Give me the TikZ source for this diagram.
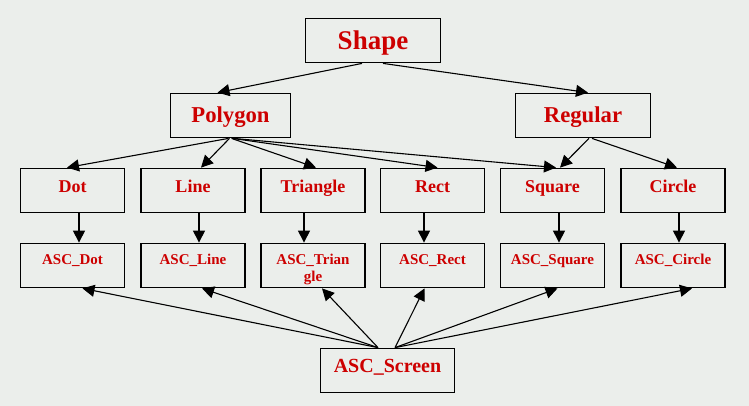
\documentclass[tikz,border=0pt]{standalone}
\usepackage{fontspec}
\setmainfont{Liberation Serif}
\usetikzlibrary{arrows.meta}
\definecolor{bgcol}{RGB}{235,238,235}
\definecolor{lbl}{RGB}{205,0,0}

\begin{document}
\begin{tikzpicture}[x=1pt,y=-1pt,
    box/.style={draw,line width=1.8pt,fill=bgcol,text=lbl,inner sep=0pt,minimum height=44pt},
    top/.style={box,minimum width=135pt,font=\bfseries\fontsize{27}{30}\selectfont,text height=17.8pt,text depth=0pt},
    mid/.style={box,font=\bfseries\fontsize{22.7}{26}\selectfont,text height=15pt,text depth=0pt},
    cls/.style={box,minimum width=104pt,font=\bfseries\fontsize{18}{20}\selectfont,text height=12pt,text depth=8.4pt},
    asc/.style={box,minimum width=104pt,font=\bfseries\fontsize{15}{17}\selectfont,text height=10pt,text depth=13pt},
    edge/.style={-{Triangle[length=12pt,width=12pt]},line width=1.1pt}]
    \fill[bgcol] (0,0) rectangle (749,406);
    \useasboundingbox (0,0) rectangle (749,406);
    \node[top] (shape) at (373,40.5) {Shape};
    \node[mid,minimum width=120pt] (polygon) at (230.5,115.5) {Polygon};
    \node[mid,minimum width=135pt] (regular) at (583,115.5) {Regular};
    \node[cls] (dot) at (72.5,190.5) {Dot};
    \node[cls] (line) at (193,190.5) {Line};
    \node[cls] (triangle) at (313,190.5) {Triangle};
    \node[cls] (rect) at (432.5,190.5) {Rect};
    \node[cls] (square) at (552.5,190.5) {Square};
    \node[cls] (circle) at (673,190.5) {Circle};
    \node[asc] (ascdot) at (72.5,265.5) {ASC\_Dot};
    \node[asc] (ascline) at (193,265.5) {ASC\_Line};
    \node[asc,align=center,text height=31pt,text depth=0pt] (asctriangle) at (313,265.5) {ASC\_Trian\\gle};
    \node[asc] (ascrect) at (432.5,265.5) {ASC\_Rect};
    \node[asc] (ascsquare) at (552.5,265.5) {ASC\_Square};
    \node[asc] (asccircle) at (673,265.5) {ASC\_Circle};
    \node[box,minimum width=134pt,font=\bfseries\fontsize{20}{23}\selectfont,text height=13.2pt,text depth=8.8pt] (screen) at (387.5,370.5) {ASC\_Screen};
    \draw[edge] ([xshift=-11pt]shape.south) -- ([xshift=-13pt]polygon.north);
    \draw[edge] ([xshift=10pt]shape.south) -- ([xshift=5pt]regular.north);
    \draw[edge] ([xshift=-2pt]polygon.south) -- ([xshift=-5.5pt]dot.north);
    \draw[edge] ([xshift=-1pt]polygon.south) -- ([xshift=8pt]line.north);
    \draw[edge] ([xshift=1pt]polygon.south) -- ([xshift=3pt]triangle.north);
    \draw[edge] ([xshift=2pt]polygon.south) -- ([xshift=5pt]rect.north);
    \draw[edge] ([xshift=3pt]polygon.south) -- ([xshift=3.5pt]square.north);
    \draw[edge] ([xshift=6pt]regular.south) -- ([xshift=7.5pt]square.north);
    \draw[edge] ([xshift=9pt]regular.south) -- ([xshift=4pt]circle.north);
    \draw[edge] ([xshift=6.5pt]dot.south) -- ([xshift=6.5pt]ascdot.north);
    \draw[edge] ([xshift=6pt]line.south) -- ([xshift=6pt]ascline.north);
    \draw[edge] ([xshift=-9pt]triangle.south) -- ([xshift=-9pt]asctriangle.north);
    \draw[edge] ([xshift=-8.5pt]rect.south) -- ([xshift=-8.5pt]ascrect.north);
    \draw[edge] ([xshift=6.5pt]square.south) -- ([xshift=6.5pt]ascsquare.north);
    \draw[edge] ([xshift=6pt]circle.south) -- ([xshift=6pt]asccircle.north);
    \draw[edge] ([xshift=-9.5pt]screen.north) -- ([xshift=10pt]ascdot.south);
    \draw[edge] ([xshift=-9.5pt]screen.north) -- ([xshift=9pt]ascline.south);
    \draw[edge] ([xshift=-9.5pt]screen.north) -- ([xshift=9pt]asctriangle.south);
    \draw[edge] ([xshift=7.5pt]screen.north) -- ([xshift=-8pt]ascrect.south);
    \draw[edge] ([xshift=7.5pt]screen.north) -- ([xshift=5pt]ascsquare.south);
    \draw[edge] ([xshift=7.5pt]screen.north) -- ([xshift=19pt]asccircle.south);
\end{tikzpicture}
\end{document}
